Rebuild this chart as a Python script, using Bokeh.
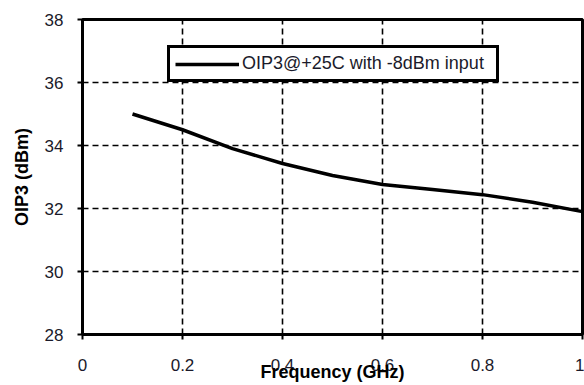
from bokeh.plotting import figure
from bokeh.models import Range1d, FixedTicker, Legend, LegendItem
from bokeh.embed import file_html
from bokeh.resources import INLINE

# ---- data ----
freq_ghz = [0.1, 0.2, 0.3, 0.4, 0.5, 0.6, 0.7, 0.8, 0.9, 1.0]
oip3_dbm = [35.0, 34.5, 33.9, 33.43, 33.05, 32.76, 32.6, 32.44, 32.2, 31.9]
x_ticks = [0, 0.2, 0.4, 0.6, 0.8, 1.0]
x_tick_labels = ["0", "0.2", "0.4", "0.6", "0.8", "1"]
y_ticks = [28, 30, 32, 34, 36, 38]
series_label = "OIP3@+25C with -8dBm input"
x_title = "Frequency (GHz)"
y_title = "OIP3 (dBm)"

FONT = "Liberation Sans"

p = figure(frame_width=500, frame_height=315,
           min_border_left=82, min_border_right=2,
           min_border_top=19, min_border_bottom=51,
           x_range=Range1d(0, 1), y_range=Range1d(28, 38),
           output_backend="svg", toolbar_location=None,
           background_fill_color="white", border_fill_color="white")

p.outline_line_color = "black"
p.outline_line_alpha = 1
p.outline_line_width = 3

r = p.line(freq_ghz, oip3_dbm, line_color="black", line_width=3.5)

# axes
for ax in (p.xaxis[0], p.yaxis[0]):
    ax.axis_line_color = "black"
    ax.axis_line_width = 3
    ax.major_tick_line_color = "black"
    ax.major_tick_line_width = 2
    ax.major_tick_out = 5
    ax.major_tick_in = 0
    ax.minor_tick_line_color = None
    ax.major_label_text_font = FONT
    ax.major_label_text_font_size = "17px"
    ax.major_label_text_color = "#1a1a2a"
    ax.axis_label_text_font = FONT
    ax.axis_label_text_font_size = "18px"
    ax.axis_label_text_font_style = "bold"
    ax.axis_label_text_color = "black"

p.xaxis.ticker = FixedTicker(ticks=x_ticks)
p.xaxis.major_label_overrides = {t: l for t, l in zip(x_ticks, x_tick_labels)}
p.xaxis.major_label_standoff = 19
p.xaxis.axis_label = x_title
p.xaxis.axis_label_standoff = -12

p.yaxis.ticker = FixedTicker(ticks=y_ticks)
p.yaxis.major_label_standoff = 14
p.yaxis.axis_label = y_title
p.yaxis.axis_label_standoff = 10

# grids
p.xgrid.ticker = FixedTicker(ticks=x_ticks)
p.ygrid.ticker = FixedTicker(ticks=y_ticks)
for g in (p.xgrid[0], p.ygrid[0]):
    g.grid_line_color = "black"
    g.grid_line_alpha = 1
    g.grid_line_width = 1.6
    g.grid_line_dash = "6 4"

legend = Legend(items=[LegendItem(label=series_label, renderers=[r])],
                location=(85, 252), orientation="vertical",
                padding=5, spacing=0, margin=0,
                glyph_width=64, glyph_height=18, label_height=18,
                label_width=249, label_standoff=3,
                label_text_font=FONT, label_text_font_size="18px",
                label_text_color="#1a1a2a",
                border_line_color="black", border_line_alpha=1,
                border_line_width=3,
                background_fill_color="white", background_fill_alpha=1)
p.add_layout(legend)

open("out.html", "w").write(file_html(p, INLINE))
